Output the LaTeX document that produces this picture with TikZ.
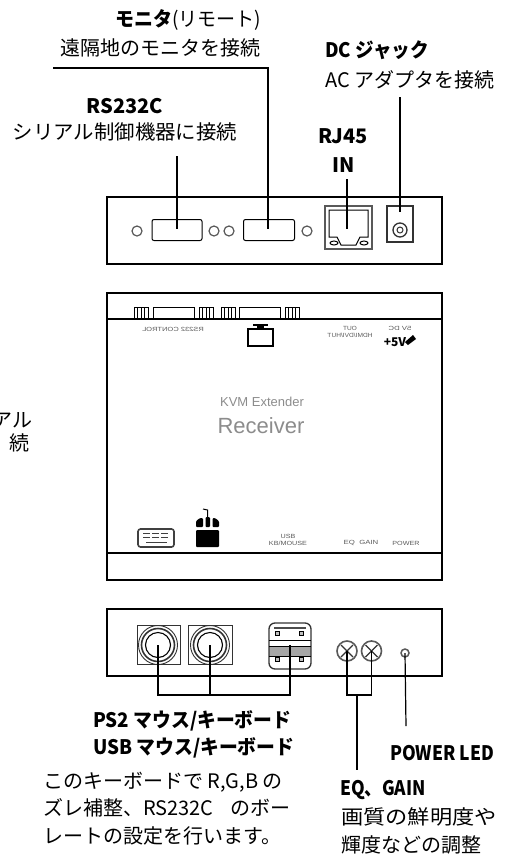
\documentclass[tikz,border=0pt]{standalone}
\usepackage{fontspec}
\setmainfont{Noto Sans CJK JP}
\newfontfamily\brandfont{Liberation Sans}
\usepackage{tikz}
\tikzset{
  panel/.style={draw,line width=1.2pt},
  leader/.style={draw,line width=1.2pt},
  port/.style={draw,line width=1pt,rounded corners=2pt,inner sep=0pt},
  screw/.style={draw=black!65,line width=1.2pt,circle,inner sep=0pt,minimum size=10pt},
  head/.style={font=\fontsize{20}{20}\selectfont\bfseries,inner sep=0pt},
  note/.style={font=\fontsize{20}{20}\selectfont,inner sep=0pt},
  tinytext/.style={font=\brandfont\fontsize{6}{7}\selectfont,inner sep=0pt,text=black!65},
  brand/.style={inner sep=0pt,text=black!45}
}
\begin{document}
\begin{tikzpicture}[x=1pt,y=-1pt]
  \useasboundingbox (0,0) rectangle (505,854);
  % rear panel
  \draw[panel] (107,197) rectangle (442,264);
  \node[screw] (sa) at (137,231) {};
  \node[screw] (sb) at (214,231) {};
  \node[screw] (sc) at (229,231) {};
  \node[screw] (sd) at (307,231) {};
  \node[port,minimum width=50pt,minimum height=21pt] (rsport) at (177,230) {};
  \node[port,minimum width=51pt,minimum height=21pt] (monport) at (269,230) {};
  \coordinate (rsin) at (177,229);
  \coordinate (monin) at (268,229);
  % network socket
  \draw[line width=1.2pt,black!65] (325,206) rectangle (372,249);
  \draw[line width=1pt] (329,210) -- (368,210) -- (368,237) -- (360,237) -- (356,245) -- (341,245) -- (337,237) -- (329,237) -- cycle;
  \draw[line width=1pt] (334,243) ellipse (4pt and 2pt);
  \draw[line width=1pt] (364,243) ellipse (4pt and 2pt);
  \coordinate (rjin) at (347,229);
  % power socket
  \draw[line width=1.1pt,black!80] (387,206) rectangle (413,242);
  \draw[line width=1.3pt,black!80] (400,230) circle (7);
  \draw[line width=1pt,black!80] (400,230) circle (3);
  \coordinate (dcin) at (400,212);

  \node[head,anchor=west,xscale=.95] (monhead) at (115,20) {モニタ\textmd{(リモート)}};
  \node[note,anchor=west] (monnote) at (60,48) {遠隔地のモニタを接続};
  \node[head,anchor=west,xscale=.93] (dchead) at (325,50) {DC ジャック};
  \node[note,anchor=west] (dcnote) at (325,80) {AC アダプタを接続};
  \node[head] (rshead) at (125,106) {RS232C};
  \node[note,xscale=1.02] (rsnote) at (125,132) {シリアル制御機器に接続};
  \node[head] (rjhead) at (343,136) {RJ45};
  \node[head] (rjin2) at (344,165) {IN};
  \coordinate (monfree) at (53,68);
  \coordinate (monbend) at (268,68);
  \coordinate (rsfree) at (177,156);
  \coordinate (rjfree) at (347,179);
  \coordinate (dcfree) at (400,97);
  \draw[leader] (monfree) -- (monbend) -- (monin);
  \draw[leader] (rsfree) -- (rsin);
  \draw[leader] (rjfree) -- (rjin);
  \draw[leader] (dcfree) -- (dcin);

  % top view
  \draw[panel,line width=1.4pt] (107,293) rectangle (442,580);
  \draw[panel,line width=1.4pt] (107,319) -- (442,319);
  \draw[panel,line width=1.4pt] (107,553) -- (442,553);
  \foreach \gx in {134,199,221,285} {
    \draw[line width=1pt] (\gx,319) -- (\gx,307) -- (\gx+14,307) -- (\gx+14,319);
    \foreach \gd in {3.5,7,10.5}
      \draw[line width=1pt] (\gx+\gd,307) -- (\gx+\gd,319);
  }
  \draw[line width=.9pt] (153,319) -- (153,307) -- (194,307) -- (194,319);
  \draw[line width=.9pt] (239,319) -- (239,307) -- (280,307) -- (280,319);
  % monitor icon
  \draw[line width=1.2pt] (248,329) rectangle (273,346);
  \fill (253,324) rectangle (268,325.5);
  \fill (257,325) rectangle (264,329);
  \node[tinytext,xscale=-1.25] (rstiny) at (173,329) {RS232 CONTROL};
  \node[tinytext,xscale=-1.1,align=center] (lantiny) at (350,332) {OUT\\HDMI/DVI/HUT};
  \node[tinytext,xscale=-1.3] (dctiny) at (400,328) {5V DC};
  \node[font=\fontsize{12}{12}\selectfont\bfseries,inner sep=0pt] (fivev) at (395,342) {+5V};
  \fill (405,342) -- (413,335) -- (416,339) -- (408,345) -- cycle;
  \node[brand,font=\brandfont\fontsize{13}{13}\selectfont] (kvm) at (262,402) {KVM Extender};
  \node[brand,font=\brandfont\fontsize{22}{22}\selectfont] (recv) at (261,426) {Receiver};
  % keyboard and mouse icons
  \draw[line width=1.6pt,rounded corners=2.5pt,black!75] (138,529) rectangle (174,547);
  \foreach \kx in {143,152,161} {
    \draw[line width=1pt,black!75] (\kx,533.5) -- (\kx+7,533.5);
    \draw[line width=1pt,black!75] (\kx,537.5) -- (\kx+7,537.5);
  }
  \draw[line width=1pt,black!75] (146,542) -- (167,542);
  \fill[rounded corners=1pt] (196,530) rectangle (219,547);
  \fill[rounded corners=1pt] (196,527) -- (196,521) -- (200,518) -- (203,518) -- (203,527) -- cycle;
  \fill[rounded corners=1pt] (205.5,527) rectangle (210,517);
  \fill[rounded corners=1pt] (212.5,527) -- (212.5,518) -- (215,518) -- (219,521) -- (219,527) -- cycle;
  \draw[line width=1pt] (207.5,517) -- (207.5,510) -- (203,509);
  \node[tinytext,align=center,xscale=1.2] (usbtiny) at (288,539.5) {USB\\KB/MOUSE};
  \node[tinytext,xscale=1.3] (eqtiny) at (361,543) {EQ\ \ GAIN};
  \node[tinytext,xscale=1.2] (powtiny) at (406,543) {POWER};
  \node[inner sep=0pt,font=\fontsize{20}{20}\selectfont,anchor=east] (lefta) at (33,420) {アル};
  \node[inner sep=0pt,font=\fontsize{20}{20}\selectfont,anchor=east] (leftb) at (30,443) {続};

  % front panel
  \draw[panel] (107,609) rectangle (442,676);
  \draw[line width=1pt,black!80] (137,625) rectangle (180,664);
  \draw[line width=1pt,black!80] (188,625) rectangle (232,664);
  \foreach \px/\pn in {158/psa,210/psb} {
    \draw[line width=.9pt,black!80] (\px,645) circle (19.5);
    \draw[line width=1.6pt,black!80] (\px,645) circle (16.5);
    \node[circle,draw,line width=1.1pt,minimum size=25pt,inner sep=0pt] (\pn) at (\px,645) {};
  }
  % usb socket
  \fill[black!35] (269,646) rectangle (311,656);
  \draw[line width=1.3pt,rounded corners=6pt,black!80] (269,623) rectangle (311,669);
  \draw[line width=1.8pt,black!70] (274,628) -- (306,628);
  \draw[line width=1pt] (269,640) -- (311,640);
  \draw[line width=1pt] (269,646) -- (311,646);
  \draw[line width=1pt] (269,656) -- (311,656);
  \foreach \ux/\uy in {277/633,301/633,277/659.5,301/659.5}
    \draw[line width=1pt,fill=black!25] (\ux-2,\uy-2) rectangle (\ux+2,\uy+2);
  \coordinate (usbin) at (290,645);
  \foreach \sx/\sn in {347/eqscrew,371.5/gainscrew} {
    \node[screw,line width=1.6pt,minimum size=20pt] (\sn) at (\sx,651) {};
    \draw[line width=1.1pt,black!80] (\sx-6,651-6) -- (\sx+6,651+6);
    \draw[line width=1.1pt,black!80] (\sx-6,651+6) -- (\sx+6,651-6);
  }
  \node[screw,line width=1.5pt,minimum size=8pt] (led) at (405,653) {};

  \coordinate (psbus) at (158,695);
  \coordinate (psmid) at (210,695);
  \coordinate (usbbus) at (290,695);
  \coordinate (eqbus) at (347,695);
  \coordinate (eqmid) at (357,695);
  \coordinate (gainbus) at (371.5,695);
  \coordinate (eqfree) at (357,770);
  \coordinate (ledfree) at (406,726);
  \draw[leader] (psa.center) -- (psbus) -- (usbbus) -- (usbin);
  \draw[leader] (psb.center) -- (psmid);
  \draw[leader] (eqscrew.center) -- (eqbus) -- (gainbus) -- (gainscrew.center);
  \draw[leader] (eqmid) -- (eqfree);
  \draw[leader] (led.center) -- (ledfree);

  \node[head,anchor=west,xscale=.94] (pshead) at (93,721) {PS2 マウス/キーボード};
  \node[head,anchor=west,xscale=.94] (usbhead) at (93,748) {USB マウス/キーボード};
  \node[note,anchor=west] (kba) at (43,782) {このキーボードで R,G,B の};
  \node[note,anchor=west] (kbb) at (43,808) {ズレ補整、RS232C\hspace{12pt} のボー};
  \node[note,anchor=west] (kbc) at (43,836) {レートの設定を行います。};
  \node[head,anchor=west,xscale=.875] (ledhead) at (390,753) {POWER LED};
  \node[head,anchor=west,xscale=.87] (eqhead) at (340,790) {EQ、GAIN};
  \node[note,anchor=west,xscale=1.11] (eqa) at (341,817) {画質の鮮明度や};
  \node[note,anchor=west] (eqb) at (341,845) {輝度などの調整};
\end{tikzpicture}
\end{document}
